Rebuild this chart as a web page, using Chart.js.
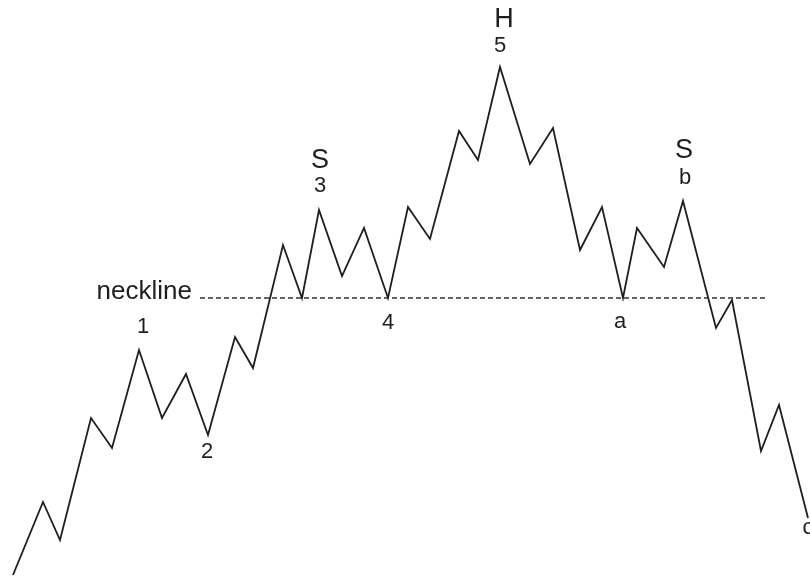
<!DOCTYPE html>
<html>
<head>
<meta charset="utf-8">
<script src="https://cdn.jsdelivr.net/npm/chart.js@4"></script>
<style>
  html, body { margin: 0; padding: 0; background: #fff; }
  #wrap { width: 810px; height: 585px; }
</style>
</head>
<body>
<div id="wrap"><canvas id="chart"></canvas></div>
<script>
// price path (time, price)
const times = [13, 43, 60, 91, 112, 139, 162, 186, 208, 235, 253, 283, 302, 319, 342, 364, 388, 408, 430, 459, 478, 500, 530, 553, 580, 602, 623, 637, 664, 683, 716, 732, 761, 779, 808];
const prices = [10, 83, 45, 167, 137, 235, 167, 211, 150, 248, 217, 340, 287, 375, 309, 357, 287, 378, 346, 454, 425, 518, 421, 457, 335, 378, 287, 357, 318, 384, 257, 285, 134, 180, 67];

// neckline
const necklineTimes = [200, 765];
const necklineLevel = 287;

// wave / pattern labels
const labelTexts = ['H', '5', 'S', '3', '1', '2', '4', 'a', 'S', 'b', 'c'];
const labelTimes = [504, 500, 320, 320, 143, 207, 388, 620, 684, 685, 808];
const labelPrices = [565, 539, 424, 399, 258, 133, 262, 263, 434, 407, 57];
const labelBig = [true, false, true, false, false, false, false, false, true, false, false];

const pricePoints = times.map((t, i) => ({ x: t, y: prices[i] }));
const neckPoints = necklineTimes.map(t => ({ x: t, y: necklineLevel }));

// draws the letters and the neckline caption
const labelPlugin = {
  id: 'labels',
  afterDatasetsDraw(chart) {
    const ctx = chart.ctx;
    const xs = chart.scales.x;
    const ys = chart.scales.y;
    ctx.save();
    ctx.fillStyle = '#1e1e1e';
    ctx.textAlign = 'center';
    ctx.textBaseline = 'middle';
    labelTexts.forEach((txt, i) => {
      ctx.font = labelBig[i] ? '27px "Liberation Sans"' : '22px "Liberation Sans"';
      ctx.fillText(txt, xs.getPixelForValue(labelTimes[i]), ys.getPixelForValue(labelPrices[i]));
    });
    ctx.font = '26px "Liberation Sans"';
    ctx.textAlign = 'right';
    ctx.fillText('neckline', xs.getPixelForValue(necklineTimes[0]) - 8, ys.getPixelForValue(necklineLevel + 6));
    ctx.restore();
  }
};

new Chart(document.getElementById('chart').getContext('2d'), {
  type: 'scatter',
  data: {
    datasets: [
      {
        data: neckPoints,
        showLine: true,
        borderColor: '#333',
        borderWidth: 1.6,
        borderDash: [5, 3],
        pointRadius: 0
      },
      {
        data: pricePoints,
        showLine: true,
        borderColor: '#1e1e1e',
        borderWidth: 1.8,
        pointRadius: 0,
        tension: 0
      }
    ]
  },
  options: {
    responsive: true,
    maintainAspectRatio: false,
    animation: false,
    layout: { padding: 0 },
    plugins: {
      legend: { display: false },
      tooltip: { enabled: false }
    },
    scales: {
      x: { type: 'linear', min: 0, max: 810, display: false },
      y: { type: 'linear', min: 0, max: 585, display: false }
    }
  },
  plugins: [labelPlugin]
});
</script>
</body>
</html>
